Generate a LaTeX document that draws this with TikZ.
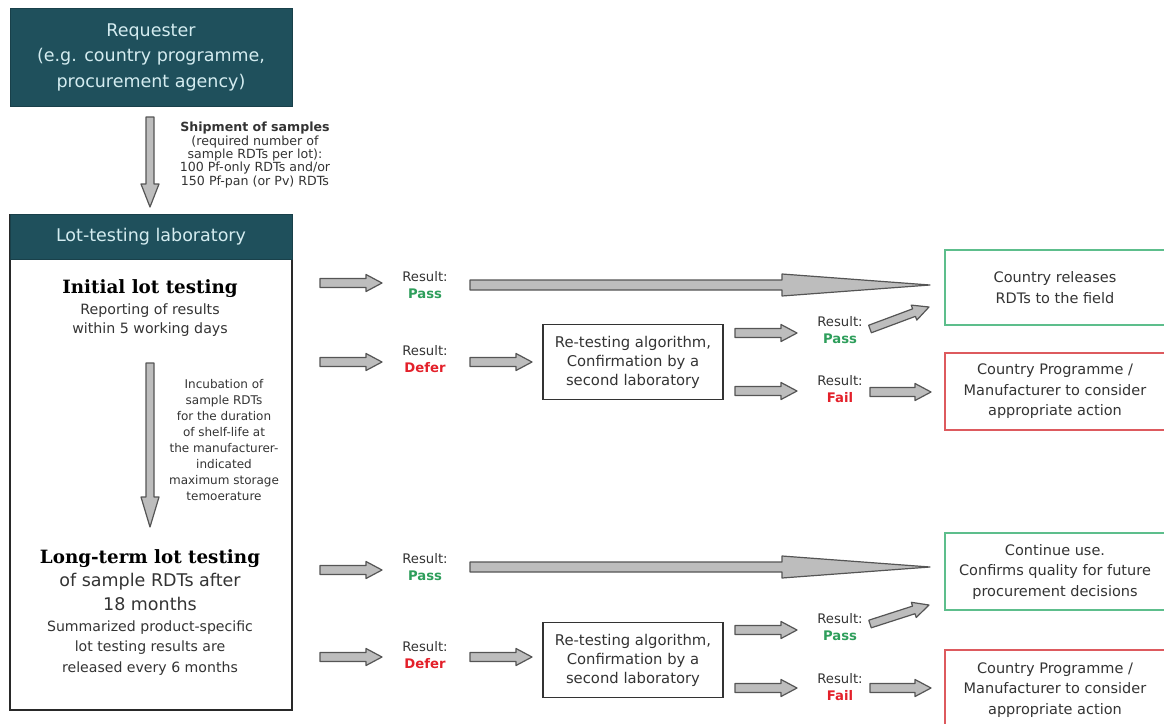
\documentclass[tikz,border=0pt]{standalone}
\usepackage{fontspec}
\setmainfont{DejaVu Sans}
\newfontfamily\headserif{DejaVu Serif}
\usetikzlibrary{positioning,calc}

\definecolor{hdrteal}{HTML}{1F505C}
\definecolor{hdrtext}{HTML}{D4ECF0}
\definecolor{arrfill}{HTML}{BDBDBD}
\definecolor{arrline}{HTML}{555555}
\definecolor{passgreen}{HTML}{2E9E5B}
\definecolor{failred}{HTML}{E3202A}
\definecolor{okbox}{HTML}{5DBE8C}
\definecolor{badbox}{HTML}{DD5A5E}
\definecolor{bodytext}{HTML}{333333}

% block arrow: from, to, shaft half width, head half width, head length
\newcommand{\barrow}[5]{%
  \coordinate (ba-h) at ($(#2)!#5!(#1)$);
  \draw[blockarrow] ($(#1)!#3!90:(#2)$) -- ($(ba-h)!#3!90:(#2)$)
    -- ($(ba-h)!#4!90:(#2)$) -- (#2) -- ($(ba-h)!#4!-90:(#2)$)
    -- ($(ba-h)!#3!-90:(#2)$) -- ($(#1)!#3!-90:(#2)$) -- cycle;}

\begin{document}
\begin{tikzpicture}[x=1pt, y=-1pt,
    hdr/.style={fill=hdrteal, draw=hdrteal!80!black, text=hdrtext, align=center, inner sep=0pt,
      font=\fontsize{17.5}{25.5}\selectfont},
    body/.style={text=bodytext, align=center, inner sep=0pt, font=\fontsize{14.2}{19}\selectfont},
    small/.style={text=bodytext, align=center, inner sep=0pt, font=\fontsize{12}{16}\selectfont},
    result/.style={text=bodytext, align=center, inner sep=0pt, font=\fontsize{13.2}{17.5}\selectfont},
    outbox/.style={draw=#1, line width=1.3pt, align=center, text=bodytext, inner sep=0pt,
      minimum width=220pt, font=\fontsize{14.5}{20.5}\selectfont},
    retest/.style={draw=bodytext, line width=1.2pt, align=center, text=bodytext, inner sep=0pt,
      minimum width=180pt, minimum height=75pt, font=\fontsize{14.8}{19}\selectfont},
    blockarrow/.style={draw=arrline, fill=arrfill, line width=1.2pt, line join=round}]

  \useasboundingbox (0,0) rectangle (1164,723);

  % left column
  \node[hdr, minimum width=282pt, minimum height=98pt] (req) at (151,57)
    {Requester\\(e.g. country programme,\\procurement agency)};
  \node[draw=bodytext!80!black, line width=1.8pt, minimum width=282pt, minimum height=495pt] (lab) at (151,462.5) {};
  \node[hdr, minimum width=282pt, minimum height=45pt, anchor=north] (labhdr) at (lab.north) {Lot-testing laboratory};
  \node[small, font=\fontsize{12.6}{13.3}\selectfont] (ship) at (255,155)
    {\textbf{Shipment of samples}\\(required number of\\sample RDTs per lot):\\100 Pf-only RDTs and/or\\150 Pf-pan (or Pv) RDTs};

  \node[font=\headserif\bfseries\fontsize{18.3}{20}\selectfont] (init) at (150,289) {Initial lot testing};
  \node[body] (report) at (150,320) {Reporting of results\\within 5 working days};
  \node[small] (incub) at (224,440) {Incubation of\\sample RDTs\\for the duration\\of shelf-life at\\the manufacturer-\\indicated\\maximum storage\\temoerature};
  \node[font=\headserif\bfseries\fontsize{18.3}{20}\selectfont] (longt) at (150,559) {Long-term lot testing};
  \node[body, font=\fontsize{17.5}{23.5}\selectfont] (after) at (150,592) {of sample RDTs after\\18 months};
  \node[body, font=\fontsize{14.1}{20.5}\selectfont] (summ) at (150,648)
    {Summarized product-specific\\lot testing results are\\released every 6 months};

  % initial testing results
  \node[result] (r1) at (425,285) {Result:\\\textcolor{passgreen}{\textbf{Pass}}};
  \node[result] (r2) at (425,359) {Result:\\\textcolor{failred}{\textbf{Defer}}};
  \node[retest] (rt1) at (633,362) {Re-testing algorithm,\\Confirmation by a\\second laboratory};
  \node[result] (r2p) at (840,330) {Result:\\\textcolor{passgreen}{\textbf{Pass}}};
  \node[result] (r2f) at (840,389) {Result:\\\textcolor{failred}{\textbf{Fail}}};
  \node[outbox=okbox, minimum height=75pt] (rel) at (1055,287.5) {Country releases\\RDTs to the field};
  \node[outbox=badbox, minimum height=77pt] (act1) at (1055,391.5) {Country Programme /\\Manufacturer to consider\\appropriate action};

  % long-term testing results
  \node[result] (r3) at (425,567) {Result:\\\textcolor{passgreen}{\textbf{Pass}}};
  \node[result] (r4) at (425,655) {Result:\\\textcolor{failred}{\textbf{Defer}}};
  \node[retest] (rt2) at (633,660) {Re-testing algorithm,\\Confirmation by a\\second laboratory};
  \node[result] (r4p) at (840,627) {Result:\\\textcolor{passgreen}{\textbf{Pass}}};
  \node[result] (r4f) at (840,687) {Result:\\\textcolor{failred}{\textbf{Fail}}};
  \node[outbox=okbox, minimum height=77pt] (cont) at (1055,571.5) {Continue use.\\Confirms quality for future\\procurement decisions};
  \node[outbox=badbox, minimum height=80pt] (act2) at (1055,690) {Country Programme /\\Manufacturer to consider\\appropriate action};

  % arrow ends
  \coordinate (d1a) at (150,117);  \coordinate (d1b) at (150,207);
  \coordinate (d2a) at (150,363);  \coordinate (d2b) at (150,527);
  \coordinate (s1a) at (320,283);  \coordinate (s1b) at (382,283);
  \coordinate (l1a) at (470,285);  \coordinate (l1b) at (930,285);
  \coordinate (s2a) at (320,362);  \coordinate (s2b) at (382,362);
  \coordinate (t2a) at (470,362);  \coordinate (t2b) at (532,362);
  \coordinate (p2a) at (735,333);  \coordinate (p2b) at (797,333);
  \coordinate (f2a) at (735,391);  \coordinate (f2b) at (797,391);
  \coordinate (q2a) at (870,329);  \coordinate (q2b) at (929,307);
  \coordinate (g2a) at (870,392);  \coordinate (g2b) at (931,392);
  \coordinate (s3a) at (320,570);  \coordinate (s3b) at (382,570);
  \coordinate (l3a) at (470,567);  \coordinate (l3b) at (930,567);
  \coordinate (s4a) at (320,657);  \coordinate (s4b) at (382,657);
  \coordinate (t4a) at (470,657);  \coordinate (t4b) at (532,657);
  \coordinate (p4a) at (735,630);  \coordinate (p4b) at (797,630);
  \coordinate (f4a) at (735,688);  \coordinate (f4b) at (797,688);
  \coordinate (q4a) at (870,624);  \coordinate (q4b) at (929,605);
  \coordinate (g4a) at (870,688);  \coordinate (g4b) at (931,688);

  \barrow{d1a}{d1b}{4pt}{9pt}{23pt}
  \barrow{d2a}{d2b}{4pt}{9pt}{30pt}
  \foreach \a/\b in {s1a/s1b, s2a/s2b, t2a/t2b, p2a/p2b, f2a/f2b, g2a/g2b,
                     s3a/s3b, s4a/s4b, t4a/t4b, p4a/p4b, f4a/f4b, g4a/g4b}
    {\barrow{\a}{\b}{4.5pt}{8.5pt}{16pt}}
  \barrow{q2a}{q2b}{4pt}{8pt}{16pt}
  \barrow{q4a}{q4b}{4pt}{8pt}{16pt}
  \barrow{l1a}{l1b}{5pt}{11pt}{148pt}
  \barrow{l3a}{l3b}{5pt}{11pt}{148pt}
\end{tikzpicture}
\end{document}
